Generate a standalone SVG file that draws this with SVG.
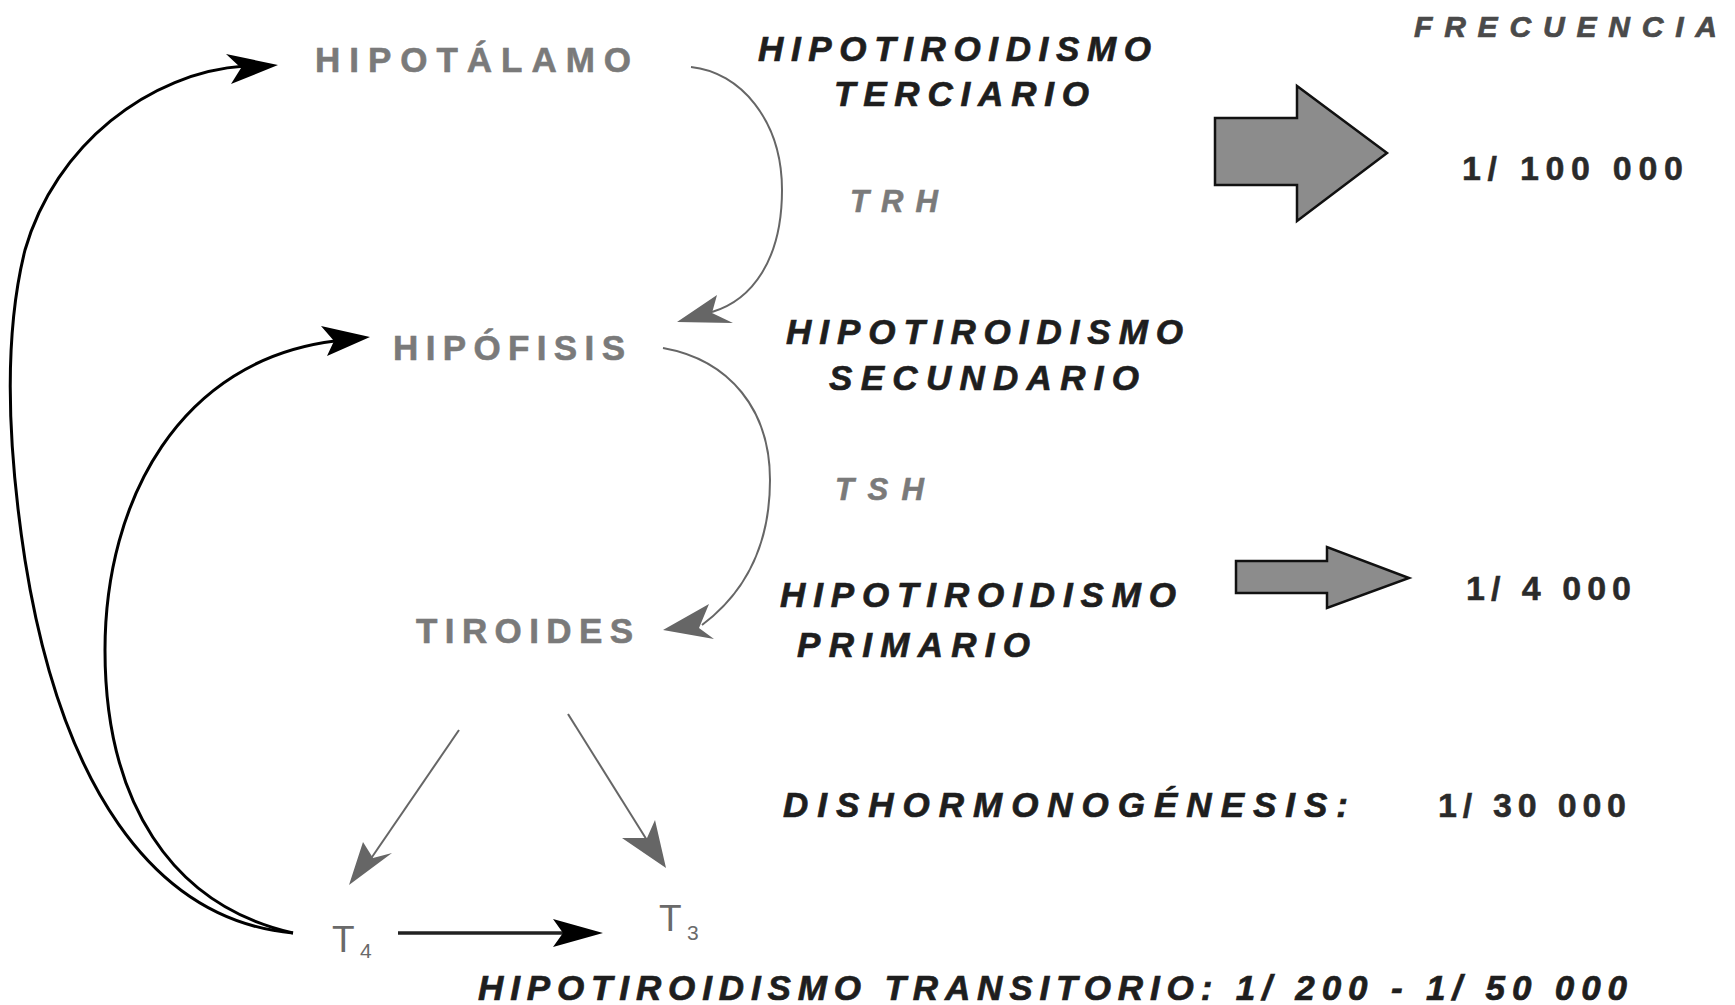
<svg xmlns="http://www.w3.org/2000/svg" width="1735" height="1005" viewBox="0 0 1735 1005">
<style>
.node{font-family:"Liberation Sans",Arial,sans-serif;font-weight:bold;font-size:35px;fill:#7a7a7a;stroke:#7a7a7a;stroke-width:0.6}
.hor{font-family:"Liberation Sans",Arial,sans-serif;font-weight:bold;font-style:italic;font-size:31px;fill:#7a7a7a;stroke:#7a7a7a;stroke-width:0.6}
.lbl{font-family:"Liberation Sans",Arial,sans-serif;font-weight:bold;font-style:italic;font-size:35px;fill:#1e1e1e;stroke:#1e1e1e;stroke-width:0.7}
.num{font-family:"Liberation Sans",Arial,sans-serif;font-weight:bold;font-size:34px;fill:#2a2a2a;stroke:#2a2a2a;stroke-width:0.5}
.t{font-family:"Liberation Sans",Arial,sans-serif;font-size:37px;fill:#6a6a6a}
.ts{font-family:"Liberation Sans",Arial,sans-serif;font-size:21px;fill:#6a6a6a}
.gl{fill:none;stroke:#666;stroke-width:2}
.bl{fill:none;stroke:#000;stroke-width:3}
.gh{fill:#666}
.bh{fill:#000}
.bigarrow{fill:#8c8c8c;stroke:#111;stroke-width:2.5}
</style>
<rect width="1735" height="1005" fill="#fff"/>

<g id="connectors">
  <path class="gl" d="M691,67 C740,72 782,120 782,190 C782,260 752,300 712,312"/>
  <polygon class="gh" points="677,322 717,295 712,313 733,323"/>
  <path class="gl" d="M663,348 C730,360 770,410 770,480 C770,550 742,595 702,625"/>
  <polygon class="gh" points="663,630 709,604 699,628 714,639"/>
  <line class="gl" x1="459" y1="730" x2="370" y2="860"/>
  <polygon class="gh" points="349,885 363,842 373,858 392,853"/>
  <line class="gl" x1="568" y1="714" x2="650" y2="845"/>
  <polygon class="gh" points="666,868 622,838 647,838 655,820"/>
  <line x1="398" y1="933" x2="565" y2="933" stroke="#222" stroke-width="3.5"/>
  <polygon class="bh" points="603,933 553,919 563,933 553,947"/>
  <path class="bl" d="M293,933 C150,920 60,780 25,560 C5,430 5,330 25,250 C55,145 150,72 245,66"/>
  <polygon class="bh" points="278,65 226,54 241,68 231,84"/>
  <path class="bl" d="M293,933 C170,905 105,800 105,650 C105,500 180,360 335,341"/>
  <polygon class="bh" points="370,337 321,326 334,341 327,356"/>
</g>

<g id="hipotalamo"><text class="node" x="315" y="72" textLength="316" lengthAdjust="spacing">HIPOTÁLAMO</text></g>
<g id="hipofisis"><text class="node" x="393" y="360" textLength="232" lengthAdjust="spacing">HIPÓFISIS</text></g>
<g id="tiroides"><text class="node" x="416" y="643" textLength="217" lengthAdjust="spacing">TIROIDES</text></g>
<g id="t4"><text class="t" x="332" y="952">T</text><text class="ts" x="360" y="958">4</text></g>
<g id="t3"><text class="t" x="659" y="931">T</text><text class="ts" x="687" y="940">3</text></g>

<g id="hormones">
  <text class="hor" x="850" y="212" textLength="88" lengthAdjust="spacing">TRH</text>
  <text class="hor" x="835" y="500" textLength="89" lengthAdjust="spacing">TSH</text>
</g>

<g id="labels">
  <text class="lbl" x="758" y="61" textLength="393" lengthAdjust="spacing">HIPOTIROIDISMO</text>
  <text class="lbl" x="834" y="106" textLength="255" lengthAdjust="spacing">TERCIARIO</text>
  <text class="lbl" x="786" y="344" textLength="397" lengthAdjust="spacing">HIPOTIROIDISMO</text>
  <text class="lbl" x="829" y="390" textLength="310" lengthAdjust="spacing">SECUNDARIO</text>
  <text class="lbl" x="780" y="607" textLength="396" lengthAdjust="spacing">HIPOTIROIDISMO</text>
  <text class="lbl" x="797" y="657" textLength="233" lengthAdjust="spacing">PRIMARIO</text>
  <text class="lbl" x="783" y="817" textLength="565" lengthAdjust="spacing">DISHORMONOGÉNESIS:</text>
  <text class="lbl" x="478" y="1000" textLength="1149" lengthAdjust="spacing">HIPOTIROIDISMO TRANSITORIO: 1/ 200 - 1/ 50 000</text>
</g>

<g id="frecuencia">
  <text class="lbl" x="1414" y="37" style="font-size:30px;fill:#4a4a4a;stroke:#4a4a4a" textLength="303" lengthAdjust="spacing">FRECUENCIA</text>
  <text class="num" x="1462" y="180" textLength="221" lengthAdjust="spacing">1/ 100 000</text>
  <text class="num" x="1466" y="600" textLength="165" lengthAdjust="spacing">1/ 4 000</text>
  <text class="num" x="1438" y="817" textLength="188" lengthAdjust="spacing">1/ 30 000</text>
</g>

<g id="arrow-big"><polygon class="bigarrow" points="1215,118 1297,118 1297,86 1387,153 1297,221 1297,185 1215,185"/></g>
<g id="arrow-small"><polygon class="bigarrow" points="1236,561 1327,561 1327,547 1409,578 1327,608 1327,593 1236,593"/></g>
</svg>
